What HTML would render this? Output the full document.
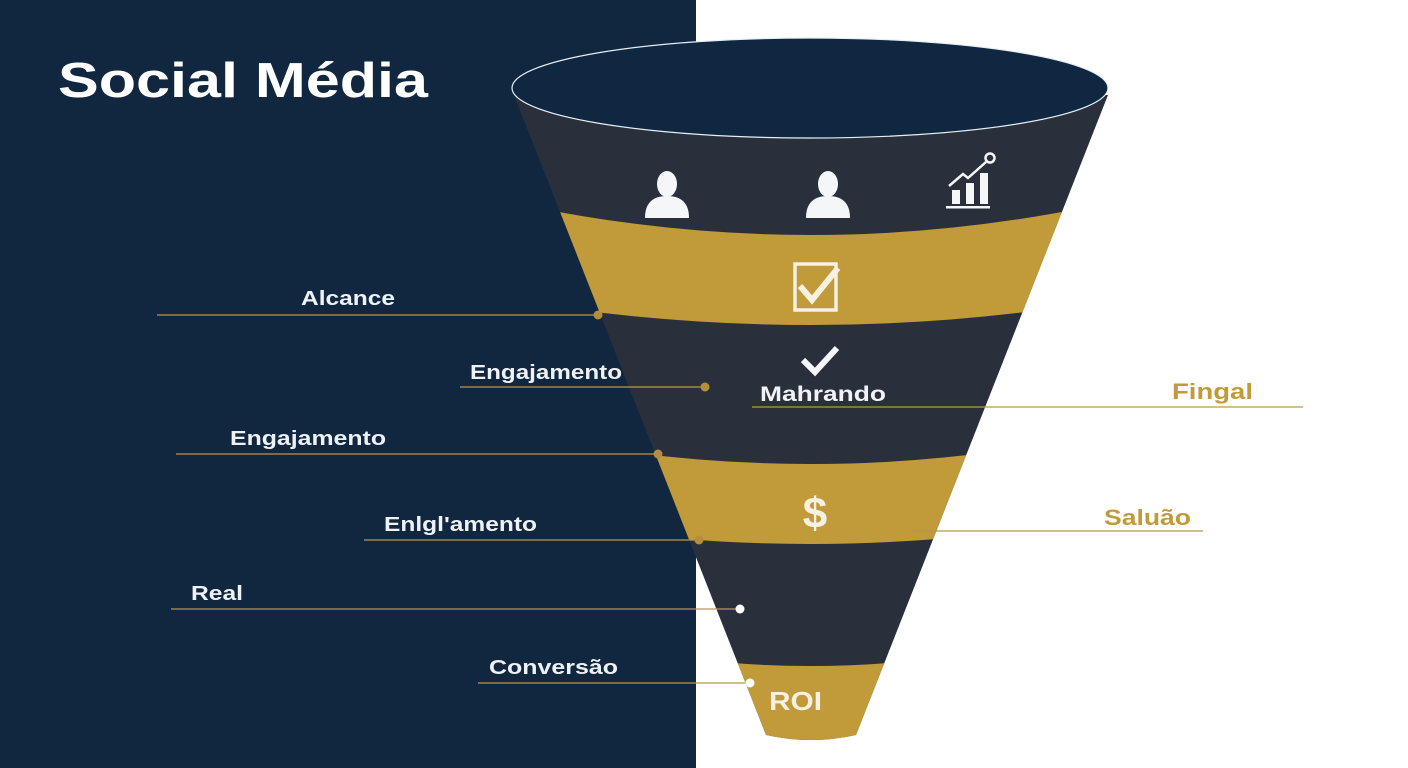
<!DOCTYPE html>
<html><head><meta charset="utf-8"><style>
html,body{margin:0;padding:0;background:#fff}
svg{display:block}
text{font-family:"Liberation Sans",sans-serif;font-weight:bold}
</style></head><body>
<svg width="1408" height="768" viewBox="0 0 1408 768" xmlns="http://www.w3.org/2000/svg">
<rect x="0" y="0" width="1408" height="768" fill="#ffffff"/>
<rect x="0" y="0" width="696" height="768" fill="#11273f"/>
<defs>
<clipPath id="fun"><path d="M514 95 L1108 95 L856 735 Q811 745 766 735 Z"/></clipPath>
</defs>
<g clip-path="url(#fun)">
<rect x="480" y="60" width="660" height="700" fill="#2a303b"/>
<path d="M500 200 Q811 270 1120 200 L1120 298 Q811 352 500 298 Z" fill="#c19a3a"/>
<path d="M600 448 Q811 480 1020 448 L1020 530 Q811 558 600 530 Z" fill="#c19a3a"/>
<path d="M700 660 Q811 672 920 660 L920 760 L700 760 Z" fill="#c19a3a"/>
</g>
<ellipse cx="810" cy="88" rx="298" ry="50" fill="#0f2740" stroke="#e8eef5" stroke-width="1.2"/>
<text x="58" y="97" font-size="49" fill="#ffffff" textLength="370" lengthAdjust="spacingAndGlyphs">Social Média</text>
<g fill="#f4f6f8">
<ellipse cx="667" cy="184" rx="10" ry="13"/>
<path d="M645 218 Q645 196 667 196 Q689 196 689 218 Z"/>
<ellipse cx="828" cy="184" rx="10" ry="13"/>
<path d="M806 218 Q806 196 828 196 Q850 196 850 218 Z"/>
<rect x="952" y="190" width="8" height="14"/>
<rect x="966" y="183" width="8" height="21"/>
<rect x="980" y="173" width="8" height="31"/>
<rect x="946" y="206" width="44" height="2.5"/>
</g>
<polyline points="949,186 963,174 968,178 986,162" fill="none" stroke="#f4f6f8" stroke-width="2.5"/>
<circle cx="990" cy="158" r="4.5" fill="none" stroke="#f4f6f8" stroke-width="2.5"/>
<rect x="795" y="264" width="41" height="46" fill="none" stroke="#f6f1e2" stroke-width="3.5"/>
<polyline points="800,286 812,300 838,268" fill="none" stroke="#f6f1e2" stroke-width="6"/>
<polyline points="803,360 815,372 837,348" fill="none" stroke="#f4f6f8" stroke-width="6"/>
<text x="815" y="528" font-size="44" fill="#f6f1e2" text-anchor="middle">$</text>
<text x="769" y="710" font-size="26" fill="#f6f1e2" textLength="53" lengthAdjust="spacingAndGlyphs">ROI</text>
<text x="760" y="401" font-size="21" fill="#f0f2f5" textLength="126" lengthAdjust="spacingAndGlyphs">Mahrando</text>
<g stroke="#b9974a" stroke-width="1.3">
<line x1="157" y1="315" x2="598" y2="315"/>
<line x1="460" y1="387" x2="705" y2="387"/>
<line x1="176" y1="454" x2="658" y2="454"/>
<line x1="364" y1="540" x2="699" y2="540"/>
<line x1="171" y1="609" x2="740" y2="609"/>
<line x1="478" y1="683" x2="750" y2="683"/>
<line x1="752" y1="407" x2="1303" y2="407"/>
<line x1="912" y1="531" x2="1203" y2="531"/>
</g>
<g fill="#b48e3c">
<circle cx="598" cy="315" r="4.5"/>
<circle cx="705" cy="387" r="4.5"/>
<circle cx="658" cy="454" r="4.5"/>
<circle cx="699" cy="540" r="4.5"/>
</g>
<circle cx="740" cy="609" r="4.5" fill="#fff"/>
<circle cx="750" cy="683" r="4.5" fill="#fff"/>
<g font-size="20" fill="#eef1f5">
<text x="301" y="305" textLength="94" lengthAdjust="spacingAndGlyphs">Alcance</text>
<text x="470" y="379" textLength="152" lengthAdjust="spacingAndGlyphs">Engajamento</text>
<text x="230" y="445" textLength="156" lengthAdjust="spacingAndGlyphs">Engajamento</text>
<text x="384" y="531" textLength="153" lengthAdjust="spacingAndGlyphs">Enlgl'amento</text>
<text x="191" y="600" textLength="52" lengthAdjust="spacingAndGlyphs">Real</text>
<text x="489" y="674" textLength="129" lengthAdjust="spacingAndGlyphs">Conversão</text>
</g>
<text x="1172" y="399" font-size="22" fill="#c19a3a" textLength="81" lengthAdjust="spacingAndGlyphs">Fingal</text>
<text x="1104" y="525" font-size="22" fill="#c19a3a" textLength="87" lengthAdjust="spacingAndGlyphs">Saluão</text>
</svg>
</body></html>
